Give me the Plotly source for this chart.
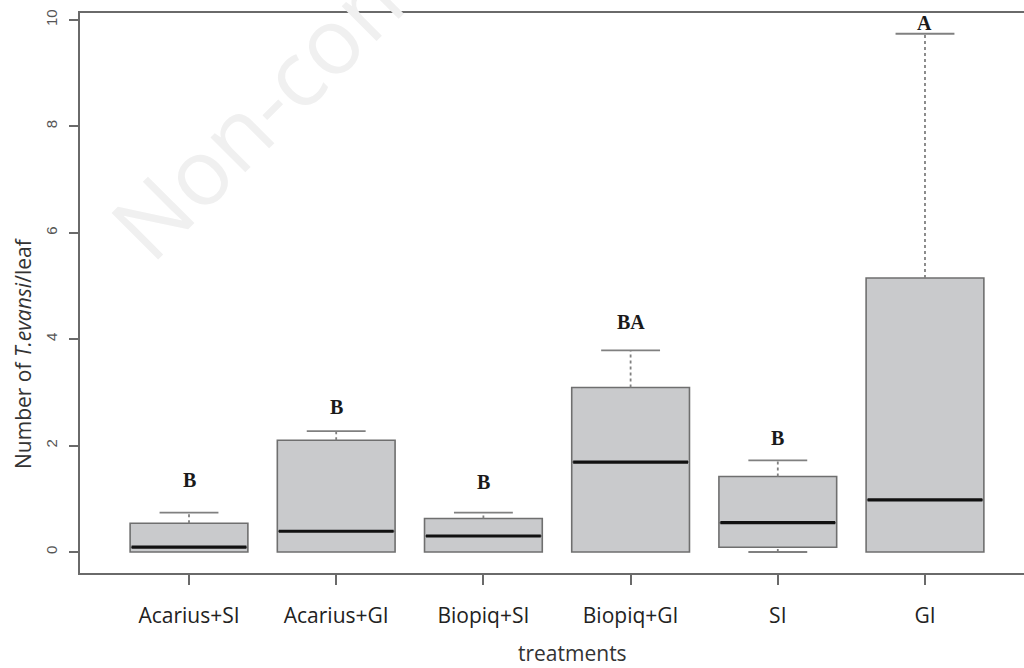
import plotly.graph_objects as go

# ---- data ----
categories = ["Acarius+SI", "Acarius+GI", "Biopiq+SI", "Biopiq+GI", "SI", "GI"]
q1 = [0.00, 0.00, 0.00, 0.00, 0.09, 0.00]
median = [0.09, 0.39, 0.30, 1.69, 0.55, 0.98]
q3 = [0.54, 2.10, 0.63, 3.09, 1.42, 5.15]
lower_whisker = [0.00, 0.00, 0.00, 0.00, 0.00, 0.00]
upper_whisker = [0.74, 2.27, 0.74, 3.79, 1.72, 9.74]
letters = ["B", "B", "B", "BA", "B", "A"]
letter_y = [1.35, 2.73, 1.32, 4.33, 2.14, 9.94]
y_ticks = [0, 2, 4, 6, 8, 10]

positions = list(range(1, len(categories) + 1))
BOX_W = 0.8
CAP_HALF = 0.2

box_fill = "#c9cacc"
box_line = "#6f6f6f"
whisk_col = "#808080"
axis_col = "#6a6a6a"

fig = go.Figure()

# boxes (no whiskers drawn by the box itself)
fig.add_trace(go.Box(
    x=positions, q1=q1, median=median, q3=q3,
    lowerfence=q1, upperfence=q3,
    width=BOX_W, whiskerwidth=0, boxpoints=False,
    fillcolor=box_fill, line=dict(color=box_line, width=1.6),
    showlegend=False, hoverinfo="skip",
))

for p, lo, a, b, hi, m in zip(positions, lower_whisker, q1, q3, upper_whisker, median):
    if hi > b:
        fig.add_trace(go.Scatter(x=[p, p], y=[b, hi], mode="lines",
                                 line=dict(color=whisk_col, width=1.8, dash="3px,3px"),
                                 showlegend=False, hoverinfo="skip"))
        fig.add_trace(go.Scatter(x=[p - CAP_HALF, p + CAP_HALF], y=[hi, hi], mode="lines",
                                 line=dict(color=whisk_col, width=1.8),
                                 showlegend=False, hoverinfo="skip"))
    if lo < a:
        fig.add_trace(go.Scatter(x=[p, p], y=[lo, a], mode="lines",
                                 line=dict(color=whisk_col, width=1.8, dash="3px,3px"),
                                 showlegend=False, hoverinfo="skip"))
        fig.add_trace(go.Scatter(x=[p - CAP_HALF, p + CAP_HALF], y=[lo, lo], mode="lines",
                                 line=dict(color=whisk_col, width=1.8),
                                 showlegend=False, hoverinfo="skip"))
    fig.add_trace(go.Scatter(x=[p - BOX_W / 2 + 0.01, p + BOX_W / 2 - 0.01], y=[m, m], mode="lines",
                             line=dict(color="#111111", width=3.2),
                             showlegend=False, hoverinfo="skip"))

L, R, T, B = 80, 0, 13, 95
W, H = 1024, 668
pw, ph = W - L - R, H - T - B


def px_to_paper(x, y):
    return (x - L) / pw, (H - B - y) / ph


annotations = []
# watermark (drawn first, so it stays underneath)
wx, wy = px_to_paper(378, -10)
annotations.append(dict(x=wx, y=wy, xref="paper", yref="paper", xanchor="center", yanchor="middle",
                        text="Non-commercial", showarrow=False, textangle=-45,
                        font=dict(family="Open Sans", size=92, color="#f0f0f0")))

# significance letters
for p, t, ly in zip(positions, letters, letter_y):
    annotations.append(dict(x=p, y=ly, xref="x", yref="y", text="<b>" + t + "</b>",
                            showarrow=False, xanchor="center", yanchor="middle",
                            font=dict(family="Liberation Serif", size=20, color="#1a1a1a")))

# y-axis title
tx, ty = px_to_paper(23, 353)
annotations.append(dict(x=tx, y=ty, xref="paper", yref="paper", xanchor="center", yanchor="middle",
                        text="Number of <i>T.evansi</i>/leaf", showarrow=False,
                        textangle=-90, font=dict(family="Open Sans", size=21, color="#333333")))
# x-axis title
tx, ty = px_to_paper(572, 653)
annotations.append(dict(x=tx, y=ty, xref="paper", yref="paper", xanchor="center", yanchor="middle",
                        text="treatments", showarrow=False,
                        font=dict(family="Open Sans", size=21, color="#333333")))

fig.update_layout(
    width=W, height=H,
    margin=dict(l=L, r=R, t=T, b=B, pad=0),
    plot_bgcolor="white", paper_bgcolor="white",
    annotations=annotations,
    showlegend=False,
)

fig.update_xaxes(
    range=[0.2595, 6.6726],
    tickmode="array", tickvals=positions, ticktext=categories,
    showline=True, linecolor=axis_col, linewidth=2, mirror=True,
    ticks="outside", ticklen=10, tickwidth=1.5, tickcolor=axis_col,
    ticklabelstandoff=13,
    tickfont=dict(family="Open Sans", size=21, color="#222222"),
    showgrid=False, zeroline=False,
)
fig.update_yaxes(
    range=[-0.395, 10.13],
    tickmode="array", tickvals=y_ticks, ticktext=[str(v) for v in y_ticks],
    tickangle=-90,
    showline=True, linecolor=axis_col, linewidth=2, mirror=False,
    ticks="outside", ticklen=9, tickwidth=1.5, tickcolor=axis_col,
    ticklabelstandoff=6,
    tickfont=dict(family="Liberation Sans", size=15, color="#555555"),
    showgrid=False, zeroline=False,
)

fig.write_html("out.html", config={"displayModeBar": False},
               post_script="document.body.style.margin='0px';")
